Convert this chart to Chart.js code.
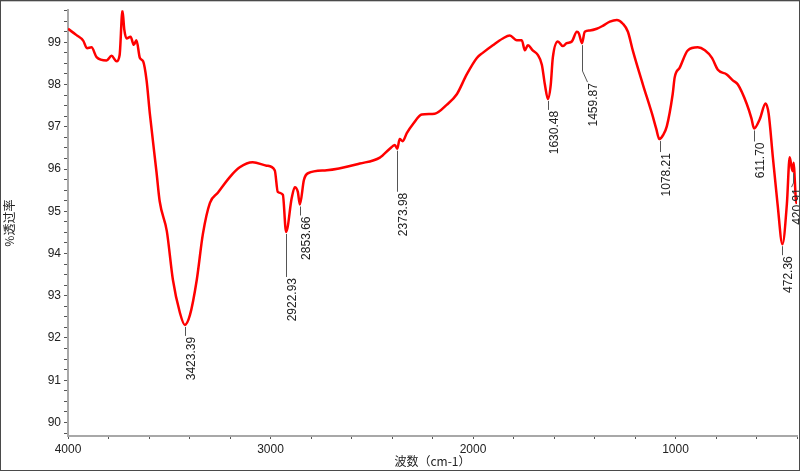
<!DOCTYPE html>
<html>
<head>
<meta charset="utf-8">
<script src="https://cdn.jsdelivr.net/npm/chart.js@4.4.0/dist/chart.umd.min.js"></script>
<style>
  html, body { margin: 0; padding: 0; background: #fff; overflow: hidden; }
  canvas { display: block; }
</style>
</head>
<body>
<canvas id="irChart" width="800" height="471"></canvas>
<script>
// spectrum (wavenumber cm-1 / % transmittance)
const waveNumbers = [4000, 3958, 3925, 3906, 3884, 3859, 3810, 3785, 3760, 3745, 3731, 3722, 3711, 3691, 3675, 3662, 3645, 3629,
  3612, 3596, 3563, 3547, 3512, 3482, 3448, 3423, 3398, 3364, 3334, 3299, 3260, 3201, 3152, 3088, 3019, 2979, 2964, 2939,
  2923, 2895, 2880, 2865, 2855, 2835, 2815, 2722, 2559, 2460, 2411, 2386, 2374, 2362, 2347, 2327, 2297, 2253, 2189, 2130,
  2080, 2031, 1981, 1952, 1902, 1853, 1818, 1784, 1759, 1744, 1729, 1705, 1680, 1660, 1645, 1630, 1616, 1606, 1581, 1557,
  1537, 1512, 1487, 1477, 1462, 1448, 1423, 1389, 1359, 1324, 1290, 1260, 1235, 1210, 1161, 1116, 1095, 1080, 1062, 1043,
  1014, 1004, 979, 939, 890, 855, 820, 791, 747, 717, 692, 648, 625, 612, 584, 555, 540, 520, 496, 472, 450, 436, 426, 421,
  416, 411, 406, 400];
const transmittance = [99.32, 99.17, 99.04, 98.86, 98.88, 98.65, 98.57, 98.68, 98.55, 98.70, 99.75, 99.30, 99.09, 99.13, 98.94, 99.05, 98.63, 98.55,
  98.10, 97.32, 95.93, 95.23, 94.53, 93.38, 92.61, 92.31, 92.54, 93.38, 94.46, 95.20, 95.44, 95.81, 96.04, 96.16, 96.08, 95.97, 95.46, 95.39,
  94.51, 95.32, 95.57, 95.46, 95.16, 95.74, 95.90, 95.97, 96.13, 96.27, 96.48, 96.57, 96.48, 96.71, 96.66, 96.85, 97.06, 97.29, 97.31, 97.52,
  97.77, 98.24, 98.63, 98.75, 98.93, 99.09, 99.16, 99.05, 99.05, 98.81, 98.93, 98.81, 98.70, 98.47, 98.00, 97.66, 98.00, 98.63, 99.02, 98.91,
  98.98, 99.02, 99.25, 99.21, 98.98, 99.25, 99.28, 99.32, 99.39, 99.49, 99.53, 99.44, 99.25, 98.79, 98.00, 97.31, 96.95, 96.71, 96.80, 97.01,
  97.77, 98.17, 98.40, 98.81, 98.88, 98.81, 98.63, 98.35, 98.24, 98.10, 98.00, 97.54, 97.20, 96.96, 97.18, 97.55, 97.31, 96.32, 95.17, 94.22, 95.17, 96.28, 96.02, 95.95,
  96.15, 95.75, 95.30, 95.17];

// labelled peaks
const peakWaves = [3423.39, 2922.93, 2853.66, 2373.98, 1630.48, 1459.87, 1078.21, 611.70, 472.36, 420.91];
const peakValues = [92.31, 94.51, 95.16, 96.48, 97.66, 98.98, 96.71, 96.96, 94.22, 95.95];
const peakLabels = ['3423.39', '2922.93', '2853.66', '2373.98', '1630.48', '1459.87', '1078.21', '611.70', '472.36', '420.91'];

// axis labels
const xMajorTicks = [4000, 3000, 2000, 1000];
const yMajorTicks = [90, 91, 92, 93, 94, 95, 96, 97, 98, 99];

const points = waveNumbers.map((w, i) => ({ x: w, y: transmittance[i] }));

// leader length below each peak (px) and sideways kink
const leaderLen = [9, 43, 9, 41, 9, 37, 11, 11, 9, 14];
const leaderShift = [0, 0, 0, 0, 0, 5, 0, 0, 0, -2];

const peakLabelPlugin = {
  id: 'peakLabels',
  afterDatasetsDraw(chart) {
    const ctx = chart.ctx;
    const xs = chart.scales.x, ys = chart.scales.y;
    ctx.save();
    ctx.font = '12px "Liberation Sans", Arial, sans-serif';
    ctx.fillStyle = '#222';
    ctx.strokeStyle = '#555';
    ctx.lineWidth = 1;
    peakWaves.forEach((w, i) => {
      const x = Math.round(xs.getPixelForValue(w)) + 0.5;
      const y = ys.getPixelForValue(peakValues[i]) + 2;
      const len = leaderLen[i], dx = leaderShift[i];
      ctx.beginPath();
      ctx.moveTo(x, y);
      if (dx) {
        ctx.lineTo(x, y + len * 0.7);
        ctx.lineTo(x + dx, y + len);
      } else {
        ctx.lineTo(x, y + len);
      }
      ctx.stroke();
      ctx.save();
      ctx.translate(x + dx, y + len + 1);
      ctx.rotate(-Math.PI / 2);
      ctx.textAlign = 'right';
      ctx.textBaseline = 'top';
      ctx.fillText(peakLabels[i], 0, 0);
      ctx.restore();
    });
    ctx.restore();
  },
  afterDraw(chart) {
    // window frame
    const ctx = chart.ctx;
    ctx.save();
    ctx.strokeStyle = '#4a4a4a';
    ctx.lineWidth = 1;
    ctx.strokeRect(0.5, 0.5, chart.width - 1, chart.height - 1);
    ctx.strokeStyle = '#c8c8c8';
    ctx.beginPath();
    ctx.moveTo(1, 1.5);
    ctx.lineTo(chart.width - 1, 1.5);
    ctx.stroke();
    ctx.restore();
  }
};

const ctx = document.getElementById('irChart').getContext('2d');

const irChart = new Chart(ctx, {
  type: 'scatter',
  data: {
    datasets: [{
      data: points,
      showLine: true,
      borderColor: '#ff0000',
      borderWidth: 2.5,
      pointRadius: 0,
      cubicInterpolationMode: 'monotone',
      fill: false
    }]
  },
  options: {
    responsive: false,
    animation: false,
    events: [],
    layout: { padding: { left: 0, right: 3, top: 1, bottom: 0 } },
    plugins: {
      legend: { display: false },
      tooltip: { enabled: false }
    },
    scales: {
      x: {
        type: 'linear',
        reverse: true,
        min: 400,
        max: 4000,
        afterFit: (scale) => { scale.height = 35; },
        afterBuildTicks: (scale) => {
          const t = [];
          for (let v = 400; v <= 4000; v += 200) t.push({ value: v });
          scale.ticks = t;
        },
        ticks: {
          autoSkip: false,
          maxRotation: 0,
          minRotation: 0,
          padding: 3,
          color: '#222',
          font: { family: '"Liberation Sans", Arial, sans-serif', size: 12 },
          callback: (v) => xMajorTicks.includes(v) ? String(v) : ''
        },
        grid: { drawOnChartArea: false, tickLength: 3, tickColor: '#555' },
        border: { color: '#a8a8a8', width: 2 },
        title: {
          display: true,
          text: '波数（cm-1）',
          color: '#222',
          font: { family: '"Noto Sans CJK SC", sans-serif', size: 12 },
          padding: { top: 0, bottom: 2 }
        }
      },
      y: {
        min: 89.68,
        max: 99.76,
        afterFit: (scale) => { scale.width = 68; },
        afterBuildTicks: (scale) => {
          const t = [];
          for (let k = 359; k <= 399; k++) t.push({ value: k / 4 });
          scale.ticks = t;
        },
        ticks: {
          autoSkip: false,
          padding: 3,
          color: '#222',
          font: { family: '"Liberation Sans", Arial, sans-serif', size: 12 },
          callback: (v) => yMajorTicks.includes(v) ? String(v) : ''
        },
        grid: { drawOnChartArea: false, tickLength: 4, tickColor: '#555' },
        border: { color: '#a8a8a8', width: 2 },
        title: {
          display: true,
          text: '%透过率',
          color: '#222',
          font: { family: '"Noto Sans CJK SC", sans-serif', size: 12 },
          padding: { top: 2, bottom: 0 }
        }
      }
    }
  },
  plugins: [peakLabelPlugin]
});
</script>
</body>
</html>
